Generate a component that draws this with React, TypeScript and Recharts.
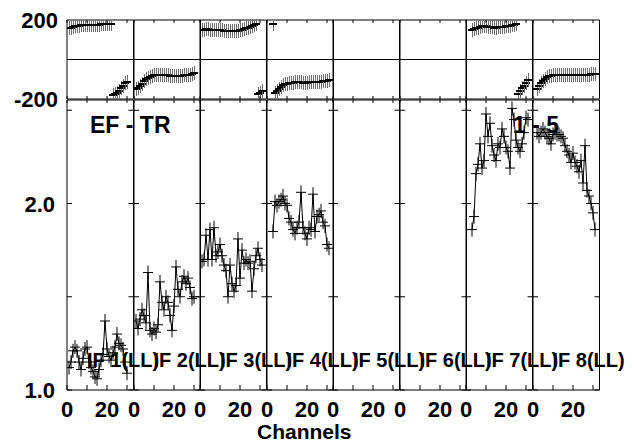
import React from 'react';
import { ComposedChart, Line, Scatter, XAxis, YAxis, ReferenceLine } from 'recharts';

// one entry per IF panel
const ifLabels = ['IF 1(LL)', 'IF 2(LL)', 'IF 3(LL)', 'IF 4(LL)', 'IF 5(LL)', 'IF 6(LL)', 'IF 7(LL)', 'IF 8(LL)'];
const firstChannel = [1, 1, 1, 3, 1, 1, 3, 2];

const ampIF1 = [1.12, 1.15, 1.21, 1.23, 1.21, 1.15, 1.11, 1.17, 1.22, 1.23, 1.15, 1.12, 1.10, 1.07, 1.06, 1.11, 1.16, 1.19, 1.37, 1.22, 1.18, 1.16, 1.20, 1.23, 1.30, 1.25, 1.24, 1.22, 1.15, 1.09];
const ampIF2 = [1.37, 1.33, 1.38, 1.43, 1.40, 1.36, 1.63, 1.32, 1.30, 1.33, 1.31, 1.35, 1.58, 1.47, 1.43, 1.50, 1.47, 1.40, 1.32, 1.45, 1.66, 1.54, 1.50, 1.58, 1.61, 1.57, 1.60, 1.55, 1.49, 1.50];
const ampIF3 = [1.69, 1.70, 1.83, 1.70, 1.86, 1.70, 1.87, 1.72, 1.74, 1.78, 1.72, 1.67, 1.64, 1.50, 1.67, 1.57, 1.53, 1.56, 1.81, 1.60, 1.75, 1.68, 1.70, 1.68, 1.69, 1.53, 1.65, 1.72, 1.76, 1.70, 1.67];
const ampIF4 = [1.85, 2.01, 1.99, 2.01, 2.02, 2.04, 2.00, 1.99, 1.92, 1.90, 1.86, 1.84, 1.87, 1.90, 2.06, 1.87, 1.84, 1.81, 1.87, 1.86, 2.05, 1.85, 1.93, 1.94, 1.96, 1.90, 1.88, 1.78, 1.76];
const ampIF5: number[] = [];
const ampIF6: number[] = [];
const ampIF7 = [1.86, 1.93, 2.16, 2.21, 2.32, 2.19, 2.23, 2.48, 2.36, 2.43, 2.31, 2.26, 2.23, 2.32, 2.30, 2.40, 2.36, 2.30, 2.28, 2.19, 2.51, 2.45, 2.34, 2.30, 2.28, 2.32, 2.38, 2.46, 2.45];
const ampIF8 = [2.38, 2.36, 2.38, 2.40, 2.38, 2.36, 2.35, 2.32, 2.37, 2.38, 2.37, 2.37, 2.36, 2.35, 2.31, 2.28, 2.26, 2.22, 2.27, 2.22, 2.20, 2.17, 2.23, 2.11, 2.31, 2.07, 2.04, 2.00, 1.95, 1.86];

const phaseIF1 = [158, 162, 165, 168, 170, 172, 173, 174, 175, 175, 176, 176, 176, 177, 177, 177, 178, 178, 178, 179, 179, 180, -179, -175, -168, -158, -145, -132, -120, -112];
const phaseIF2 = [-150, -143, -133, -122, -110, -100, -92, -87, -83, -80, -78, -77, -77, -78, -79, -80, -81, -82, -82, -83, -83, -83, -82, -82, -81, -80, -79, -77, -74, -70];
const phaseIF3 = [148, 150, 152, 152, 151, 150, 150, 149, 148, 148, 147, 146, 146, 145, 145, 145, 144, 144, 145, 147, 150, 153, 157, 161, 165, 169, 174, 178, -176, -168, -160];
const phaseIF4 = [178, -172, -160, -148, -138, -130, -125, -122, -120, -118, -117, -116, -116, -116, -116, -117, -117, -117, -116, -116, -115, -115, -114, -113, -112, -111, -110, -108, -106];
const phaseIF5: number[] = [];
const phaseIF6: number[] = [];
const phaseIF7 = [150, 153, 157, 161, 165, 168, 170, 169, 167, 165, 163, 162, 162, 163, 164, 165, 166, 168, 170, 172, 174, 176, 178, -174, -160, -146, -132, -118, -106];
const phaseIF8 = [-150, -135, -120, -108, -98, -90, -85, -82, -81, -80, -80, -80, -80, -80, -81, -81, -81, -81, -80, -80, -80, -80, -79, -79, -78, -77, -76, -75, -74, -72];

const ampSeries = [ampIF1, ampIF2, ampIF3, ampIF4, ampIF5, ampIF6, ampIF7, ampIF8];
const phaseSeries = [phaseIF1, phaseIF2, phaseIF3, phaseIF4, phaseIF5, phaseIF6, phaseIF7, phaseIF8];

const channelTicks = [0, 10, 20, 30];
const channelLabelTicks = [0, 20];
const ampTicks = [1.0, 1.5, 2.0, 2.5];
const ampLabelTicks = [1.0, 2.0];
const phaseTicks = [-200, 200];

const FONT = '"Liberation Sans", Arial, Helvetica, sans-serif';
const LEFT = 67;
const PANEL_W = 66.5;
const PAD = 62;
const CH_DOMAIN = [0, 33.25];
const AMP_DOMAIN = [1, 2.555];
const PHASE_DOMAIN = [-200, 200];

const ampCross = (props: any) => {
  const { cx, cy } = props;
  if (cx == null || cy == null) return <g />;
  return (
    <g>
      <line x1={cx - 5} x2={cx + 5} y1={cy} y2={cy} stroke="#000" />
      <line x1={cx} x2={cx} y1={cy - 7} y2={cy + 7} stroke="#000" />
    </g>
  );
};

const phaseCross = (props: any) => {
  const { cx, cy } = props;
  if (cx == null || cy == null) return <g />;
  return (
    <g shapeRendering="crispEdges">
      <line x1={cx} x2={cx} y1={cy - 7} y2={cy + 7} stroke="#6e6e6e" />
      <line x1={cx - 4} x2={cx + 4} y1={cy} y2={cy} stroke="#000" strokeWidth={2} />
    </g>
  );
};

const xTick = (len: number, withLabel: boolean) => (props: any) => {
  const { x, y, payload } = props;
  return (
    <g>
      <line x1={x} x2={x} y1={y} y2={y + len} stroke="#000" />
      {withLabel && channelLabelTicks.includes(payload.value) && (
        <text x={x} y={y + 27} textAnchor="middle" fontFamily={FONT} fontWeight="bold" fontSize={22} fill="#000">
          {payload.value}
        </text>
      )}
    </g>
  );
};

const yTick = (len: number, labels: number[], fmt: (v: number) => string, dx: number) => (props: any) => {
  const { x, y, payload } = props;
  return (
    <g>
      {len !== 0 && <line x1={x} x2={x + len} y1={y} y2={y} stroke="#000" />}
      {labels.includes(payload.value) && (
        <text x={x - dx} y={y + 8} textAnchor="end" fontFamily={FONT} fontWeight="bold" fontSize={22} fill="#000">
          {fmt(payload.value)}
        </text>
      )}
    </g>
  );
};

const axisCommon = {
  tickSize: 0,
  tickMargin: 0,
  tickLine: false,
  axisLine: { stroke: '#000' },
  interval: 0 as const,
  allowDataOverflow: true,
};

const Panel = ({ i }: { i: number }) => {
  const rows = ampSeries[i].map((amp, k) => ({ ch: firstChannel[i] + k, amp, phase: phaseSeries[i][k] }));
  const left = LEFT + i * PANEL_W - PAD;
  const first = i === 0;
  return (
    <>
      <div style={{ position: 'absolute', left, top: 5 }}>
        <ComposedChart width={PANEL_W + 2 * PAD} height={112} margin={{ top: 14, bottom: 17, left: PAD - 1, right: PAD - 1 }}>
          <XAxis xAxisId="b" dataKey="ch" type="number" domain={CH_DOMAIN} ticks={channelTicks} height={1}
            {...axisCommon} tick={xTick(-3, false)} />
          <XAxis xAxisId="t" orientation="top" dataKey="ch" type="number" domain={CH_DOMAIN} ticks={channelTicks} height={1}
            {...axisCommon} tick={xTick(3, false)} />
          <YAxis yAxisId="l" type="number" domain={PHASE_DOMAIN} ticks={phaseTicks} width={1}
            {...axisCommon} tick={yTick(0, first ? phaseTicks : [], (v) => String(v), 9)} />
          <YAxis yAxisId="r" orientation="right" type="number" domain={PHASE_DOMAIN} ticks={phaseTicks} width={1}
            {...axisCommon} tick={yTick(0, [], (v) => String(v), 0)} />
          <ReferenceLine xAxisId="b" yAxisId="l" y={0} stroke="#000" />
          <Scatter xAxisId="b" yAxisId="l" data={rows} dataKey="phase" shape={phaseCross} isAnimationActive={false} />
        </ComposedChart>
      </div>
      <div style={{ position: 'absolute', left, top: 90 }}>
        <ComposedChart width={PANEL_W + 2 * PAD} height={350} margin={{ top: 9, bottom: 0, left: PAD - 1, right: PAD - 1 }}>
          <XAxis xAxisId="b" dataKey="ch" type="number" domain={CH_DOMAIN} ticks={channelTicks} height={50}
            {...axisCommon} tick={xTick(-5, true)} />
          <XAxis xAxisId="t" orientation="top" dataKey="ch" type="number" domain={CH_DOMAIN} ticks={channelTicks} height={1}
            {...axisCommon} tick={xTick(3, false)} />
          <YAxis yAxisId="l" type="number" domain={AMP_DOMAIN} ticks={ampTicks} width={1}
            {...axisCommon} tick={yTick(5, first ? ampLabelTicks : [], (v) => v.toFixed(1), 12)} />
          <YAxis yAxisId="r" orientation="right" type="number" domain={AMP_DOMAIN} ticks={ampTicks} width={1}
            {...axisCommon} tick={yTick(-5, [], (v) => v.toFixed(1), 0)} />
          <Line xAxisId="b" yAxisId="l" data={rows} dataKey="amp" type="linear" stroke="#000" strokeWidth={1}
            dot={ampCross} activeDot={false} isAnimationActive={false} />
        </ComposedChart>
      </div>
    </>
  );
};

export default function App() {
  return (
    <div style={{ position: 'absolute', left: 0, top: 0, width: 636, height: 442, background: '#fff', overflow: 'hidden' }}>
      {ifLabels.map((_, i) => (
        <Panel key={i} i={i} />
      ))}
      <svg width={636} height={442} style={{ position: 'absolute', left: 0, top: 0, pointerEvents: 'none' }}>
        <g fontFamily={FONT} fontWeight="bold" fill="#000">
          <text x={90} y={133} fontSize={23}>EF - TR</text>
          <text x={513} y={133} fontSize={23}>1 - 5</text>
          {ifLabels.map((label, i) => (
            <text key={label} x={LEFT + i * PANEL_W + 20} y={367} fontSize={20}>{label}</text>
          ))}
          <text x={257} y={439} fontSize={21}>Channels</text>
        </g>
      </svg>
    </div>
  );
}
